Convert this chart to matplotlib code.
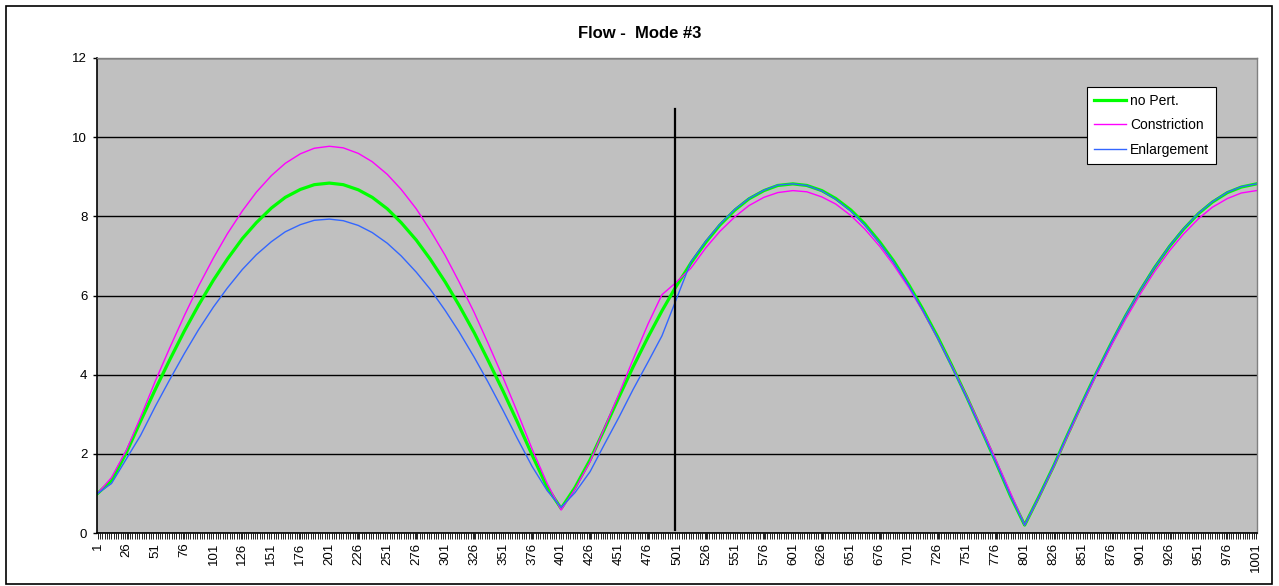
import matplotlib.pyplot as plt
from matplotlib.patches import Rectangle
import numpy as np

plt.rcParams['font.family'] = ['Liberation Sans', 'DejaVu Sans']

# sample index (1..1001) and the values
sample_index = [1, 13, 26, 38, 51, 63, 76, 88, 101, 113, 126, 138, 151, 163, 176, 188, 201,
                213, 226, 238, 251, 263, 276, 288, 301, 313, 326, 338, 351, 363, 376, 389,
                401, 413, 426, 438, 451, 463, 476, 488, 499, 513,
                526, 538, 551, 563, 576, 588, 601,
                613, 626, 638, 651, 663, 676, 688, 701, 713, 726, 738, 751, 763, 776, 789,
                801, 813, 826, 838, 851, 863, 876, 888, 901, 913, 926, 938, 951, 963, 976, 988, 1001]
no_pert = [1.00, 1.32, 2.04, 2.82, 3.64, 4.36, 5.11, 5.75, 6.39, 6.92, 7.44, 7.84, 8.21, 8.48, 8.68, 8.80, 8.84,
           8.80, 8.67, 8.48, 8.19, 7.84, 7.40, 6.92, 6.34, 5.75, 5.06, 4.36, 3.58, 2.82, 1.97, 1.15,
           0.62, 1.15, 1.85, 2.60, 3.44, 4.19, 4.95, 5.61, 6.17, 6.82,
           7.35, 7.78, 8.16, 8.44, 8.65, 8.78, 8.82,
           8.78, 8.65, 8.45, 8.16, 7.81, 7.35, 6.87, 6.27, 5.66, 4.95, 4.24, 3.44, 2.66, 1.80, 0.92,
           0.20, 0.90, 1.69, 2.48, 3.31, 4.05, 4.81, 5.48, 6.14, 6.70, 7.24, 7.67, 8.07, 8.36, 8.60, 8.74, 8.82]
constriction = [1.00, 1.40, 2.10, 2.92, 3.85, 4.66, 5.50, 6.23, 6.95, 7.56, 8.14, 8.61, 9.03, 9.34, 9.58, 9.72, 9.77,
                9.73, 9.59, 9.38, 9.06, 8.68, 8.19, 7.65, 7.01, 6.34, 5.57, 4.79, 3.92, 3.07, 2.12, 1.25,
                0.58, 1.11, 1.80, 2.63, 3.52, 4.38, 5.28, 6.02, 6.30, 6.69,
                7.21, 7.62, 7.99, 8.27, 8.48, 8.60, 8.65,
                8.62, 8.49, 8.31, 8.02, 7.68, 7.24, 6.77, 6.20, 5.61, 4.92, 4.23, 3.45, 2.70, 1.86, 1.00,
                0.20, 0.88, 1.67, 2.45, 3.27, 4.00, 4.75, 5.40, 6.05, 6.60, 7.13, 7.55, 7.94, 8.23, 8.45, 8.59, 8.65]
enlargement = [1.00, 1.25, 1.88, 2.46, 3.21, 3.86, 4.54, 5.13, 5.71, 6.19, 6.66, 7.03, 7.36, 7.61, 7.79, 7.90, 7.93,
               7.89, 7.77, 7.59, 7.32, 7.00, 6.59, 6.16, 5.62, 5.08, 4.44, 3.81, 3.09, 2.40, 1.68, 1.07,
               0.65, 1.02, 1.55, 2.22, 2.93, 3.62, 4.32, 4.98, 5.80, 6.85,
               7.38, 7.80, 8.18, 8.45, 8.66, 8.79, 8.82,
               8.78, 8.64, 8.43, 8.13, 7.78, 7.32, 6.84, 6.24, 5.63, 4.92, 4.21, 3.42, 2.64, 1.79, 0.92,
               0.20, 0.90, 1.70, 2.49, 3.32, 4.06, 4.82, 5.49, 6.15, 6.71, 7.25, 7.68, 8.08, 8.37, 8.61, 8.75, 8.82]

# vertical marker line
marker_index = 499
marker_bottom = 0.08
marker_top = 10.72

tick_labels = list(range(1, 1002, 25))

fig = plt.figure(figsize=(12.79, 5.86), dpi=100)
fig.patch.set_facecolor('white')
# outer chart border
fig.patches.append(Rectangle((6 / 1279, 2 / 586), 1266 / 1279, 578 / 586,
                             transform=fig.transFigure, fill=False,
                             edgecolor='black', linewidth=1.2))

ax = fig.add_axes([97 / 1279, 53 / 586, 1160 / 1279, 475 / 586])
ax.set_facecolor('#C0C0C0')

ax.plot(sample_index, no_pert, color='#00FF00', linewidth=2.3, label='no Pert.')
ax.plot(sample_index, constriction, color='#FF00FF', linewidth=1.0, label='Constriction')
ax.plot(sample_index, enlargement, color='#3366FF', linewidth=1.0, label='Enlargement')

ax.plot([marker_index, marker_index], [marker_bottom, marker_top],
        color='black', linewidth=1.6)

ax.set_xlim(0.5, 1001.5)
ax.set_ylim(0, 12)

ax.set_yticks(np.arange(0, 13, 2))
ax.yaxis.grid(True, color='black', linewidth=1.0)
ax.set_axisbelow(True)
ax.tick_params(axis='y', direction='out', length=3, width=1, labelsize=9.5, pad=4)

ax.set_xticks(tick_labels)
ax.set_xticklabels([str(t) for t in tick_labels], rotation=90)
ax.set_xticks(np.arange(1, 1002, 2), minor=True)
ax.tick_params(axis='x', which='major', direction='out', length=4, width=0.6,
               labelsize=9.5, pad=3)
ax.tick_params(axis='x', which='minor', direction='out', length=4, width=0.6)

for side in ['left', 'bottom']:
    ax.spines[side].set_color('black')
    ax.spines[side].set_linewidth(1.2)
for side in ['top', 'right']:
    ax.spines[side].set_color('#808080')
    ax.spines[side].set_linewidth(1.0)

leg = ax.legend(loc='upper left', bbox_to_anchor=(0.8534, 0.939), borderaxespad=0,
                fontsize=10, frameon=True, fancybox=False, handlelength=2.3,
                borderpad=0.5, labelspacing=0.75, handletextpad=0.3)
leg.get_frame().set_edgecolor('black')
leg.get_frame().set_facecolor('white')
leg.get_frame().set_alpha(1)
leg.get_frame().set_linewidth(0.8)

fig.text(640 / 1279, 1 - 33 / 586, 'Flow -  Mode #3', ha='center', va='center',
         fontsize=12, fontweight='bold')

fig.savefig('out.png', dpi=100)
